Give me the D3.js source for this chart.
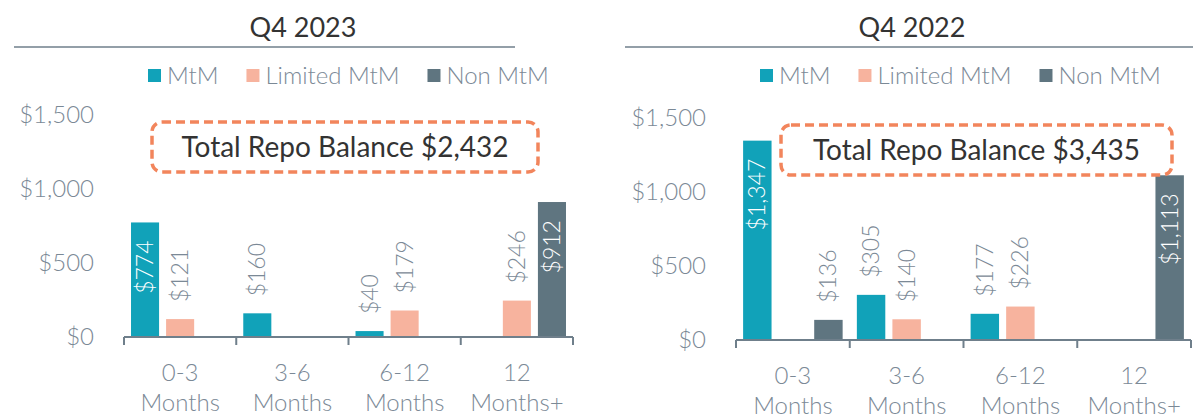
<!DOCTYPE html>
<html>
<head>
<meta charset="utf-8">
<script src="https://cdn.jsdelivr.net/npm/d3@7"></script>
<style>
  body { margin: 0; background: #fff; }
  svg { display: block; font-family: Lato, "Noto Sans", sans-serif; }
</style>
</head>
<body>
<svg id="chart" width="1193" height="415"></svg>
<script>
// data
const categories = [["0-3", "Months"], ["3-6", "Months"], ["6-12", "Months"], ["12", "Months+"]]
const seriesNames = ["MtM", "Limited MtM", "Non MtM"]
const seriesColors = ["#11a2b9", "#f7b39e", "#5f7580"]
const yTicks = [0, 500, 1000, 1500]

const mtm2023 = [774, 160, 40, 0]
const limited2023 = [121, 0, 179, 246]
const non2023 = [0, 0, 0, 912]
const total2023 = 2432

const mtm2022 = [1347, 305, 177, 0]
const limited2022 = [0, 140, 226, 0]
const non2022 = [136, 0, 0, 1113]
const total2022 = 3435

const panels = [
    { title: "Q4 2023", series: [mtm2023, limited2023, non2023], total: total2023,
      titleX: 303, line: [14, 515], x: [124, 573], y: [337, 115], box: [152, 122, 386, 50] },
    { title: "Q4 2022", series: [mtm2022, limited2022, non2022], total: total2022,
      titleX: 912, line: [625, 1193], x: [736, 1191], y: [340, 118], box: [781, 125, 391, 50] }
]

const svg = d3.select("#chart")
const labelGray = "#7b8996"
const axisGray = "#6f7f8b"

function drawPanel(p) {
    let g = svg.append("g")

    // title + rule
    g.append("text")
        .attr("x", p.titleX).attr("y", 37)
        .attr("text-anchor", "middle")
        .attr("font-size", 27).attr("fill", "#333")
        .text(p.title)
    g.append("line")
        .attr("x1", p.line[0]).attr("x2", p.line[1])
        .attr("y1", 47).attr("y2", 47)
        .attr("stroke", axisGray).attr("stroke-width", 1.5)

    let x0 = d3.scaleBand().domain(d3.range(categories.length)).range(p.x)
    let x1 = d3.scaleBand().domain(d3.range(seriesNames.length))
        .range([0, x0.bandwidth()]).paddingInner(0.2).paddingOuter(0.2)
    let y = d3.scaleLinear().domain([0, 1500]).range(p.y)

    // legend
    let lg = g.append("g").attr("transform", `translate(${p.x[0] + 24},76)`)
    let lx = 0
    seriesNames.forEach((name, i) => {
        lg.append("rect").attr("x", lx).attr("y", -7).attr("width", 13).attr("height", 13)
            .attr("fill", seriesColors[i])
        let t = lg.append("text").attr("x", lx + 19).attr("y", 0).attr("dy", "0.35em")
            .attr("font-size", 24).attr("font-weight", 300).attr("fill", labelGray)
            .text(name)
        lx += 19 + t.node().getComputedTextLength() + 28
    })

    // y axis labels
    let yAxis = d3.axisLeft(y).tickValues(yTicks).tickSize(0).tickPadding(30)
        .tickFormat(d => "$" + d3.format(",")(d))
    let ya = g.append("g").attr("transform", `translate(${p.x[0]},0)`).call(yAxis)
    ya.select(".domain").remove()
    ya.selectAll("text").attr("font-size", 24).attr("font-weight", 300)
        .attr("fill", labelGray).attr("font-family", "Lato, sans-serif")

    // bars
    p.series.forEach((vals, si) => {
        vals.forEach((v, ci) => {
            if (!v) return
            let bx = x0(ci) + x1(si)
            g.append("rect")
                .attr("x", bx).attr("width", x1.bandwidth())
                .attr("y", y(v)).attr("height", y(0) - y(v))
                .attr("fill", seriesColors[si])
            let inside = v > 700
            let cx = bx + x1.bandwidth() / 2
            let ty = inside ? y(v) + 18 : y(v) - 17
            g.append("text")
                .attr("transform", `translate(${cx},${ty}) rotate(-90)`)
                .attr("text-anchor", inside ? "end" : "start")
                .attr("dy", "0.35em")
                .attr("font-size", 23).attr("font-weight", 300)
                .attr("fill", inside ? "#fff" : labelGray)
                .text("$" + d3.format(",")(v))
        })
    })

    // x axis line with boundary ticks
    g.append("line")
        .attr("x1", p.x[0]).attr("x2", p.x[1])
        .attr("y1", y(0)).attr("y2", y(0))
        .attr("stroke", axisGray).attr("stroke-width", 2)
    let bounds = d3.range(categories.length).map(i => x0(i)).concat([p.x[1]])
    g.selectAll(".tk").data(bounds).enter().append("line")
        .attr("x1", d => d).attr("x2", d => d)
        .attr("y1", y(0)).attr("y2", y(0) + 8)
        .attr("stroke", axisGray).attr("stroke-width", 2)

    // category labels
    categories.forEach((c, i) => {
        let cx = x0(i) + x0.bandwidth() / 2
        let t = g.append("text")
            .attr("text-anchor", "middle")
            .attr("font-size", 24).attr("font-weight", 300).attr("fill", labelGray)
        t.append("tspan").attr("x", cx).attr("y", y(0) + 44).text(c[0])
        t.append("tspan").attr("x", cx).attr("y", y(0) + 74).text(c[1])
    })

    // total annotation
    let b = p.box
    g.append("rect")
        .attr("x", b[0]).attr("y", b[1]).attr("width", b[2]).attr("height", b[3])
        .attr("rx", 10)
        .attr("fill", "none").attr("stroke", "#f2855c")
        .attr("stroke-width", 3.5).attr("stroke-dasharray", "9,5")
    g.append("text")
        .attr("x", b[0] + b[2] / 2).attr("y", b[1] + b[3] / 2)
        .attr("dy", "0.35em").attr("text-anchor", "middle")
        .attr("font-size", 28).attr("fill", "#333")
        .text("Total Repo Balance $" + d3.format(",")(p.total))
}

panels.forEach(drawPanel)
</script>
</body>
</html>
